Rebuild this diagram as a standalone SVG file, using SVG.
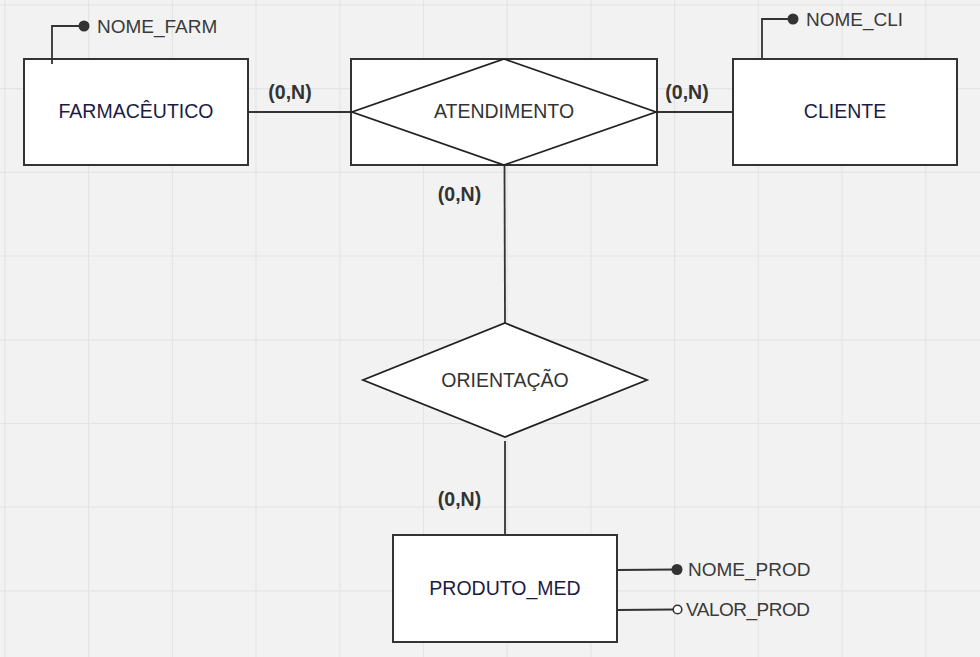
<svg xmlns="http://www.w3.org/2000/svg" width="980" height="657" viewBox="0 0 980 657">
<style>
.grid line{stroke:#e4e4e4;stroke-width:1.2}
.ent{fill:#fff;stroke:#333;stroke-width:2}
.rel{fill:#fff;stroke:#222;stroke-width:1.8}
.lbl{font-family:"Liberation Sans",Arial,sans-serif;font-size:19.5px;text-anchor:middle}
.etxt{fill:#1c1b45}
.rtxt{fill:#333}
.card{font-family:"Liberation Sans",Arial,sans-serif;font-size:19.5px;font-weight:bold;fill:#333;text-anchor:middle}
.attr{font-family:"Liberation Sans",Arial,sans-serif;font-size:19px;fill:#3a3a3a}
.conn{fill:none;stroke:#333;stroke-width:1.8}
</style>
<rect width="980" height="657" fill="#f2f2f2"/>
<g class="grid">
<line x1="5" y1="0" x2="5" y2="657"/><line x1="88.7" y1="0" x2="88.7" y2="657"/><line x1="172.4" y1="0" x2="172.4" y2="657"/><line x1="256" y1="0" x2="256" y2="657"/><line x1="339.8" y1="0" x2="339.8" y2="657"/><line x1="423.5" y1="0" x2="423.5" y2="657"/><line x1="507.2" y1="0" x2="507.2" y2="657"/><line x1="590.9" y1="0" x2="590.9" y2="657"/><line x1="674.6" y1="0" x2="674.6" y2="657"/><line x1="758.3" y1="0" x2="758.3" y2="657"/><line x1="842" y1="0" x2="842" y2="657"/><line x1="925.7" y1="0" x2="925.7" y2="657"/>
<line x1="0" y1="5" x2="980" y2="5"/><line x1="0" y1="88.7" x2="980" y2="88.7"/><line x1="0" y1="172.4" x2="980" y2="172.4"/><line x1="0" y1="256" x2="980" y2="256"/><line x1="0" y1="339.8" x2="980" y2="339.8"/><line x1="0" y1="423.5" x2="980" y2="423.5"/><line x1="0" y1="507.2" x2="980" y2="507.2"/><line x1="0" y1="590.9" x2="980" y2="590.9"/>
</g>
<g id="connectors">
<line class="conn" x1="248" y1="112" x2="351" y2="112"/>
<line class="conn" x1="657" y1="112" x2="733" y2="112"/>
<line class="conn" x1="504.5" y1="165" x2="505" y2="323"/>
<line class="conn" x1="505" y1="441" x2="505" y2="535"/>
<text class="card" x="290" y="99">(0,N)</text>
<text class="card" x="687" y="99">(0,N)</text>
<text class="card" x="459.5" y="201">(0,N)</text>
<text class="card" x="459.5" y="506">(0,N)</text>
</g>
<g id="farmaceutico">
<rect class="ent" x="24" y="59" width="224" height="106"/>
<text class="lbl etxt" x="136" y="118">FARMACÊUTICO</text>
</g>
<g id="attr-nome-farm">
<polyline class="conn" points="52,64 52,26 84,26"/>
<circle cx="84" cy="26" r="5.5" fill="#333"/>
<text class="attr" x="97" y="33">NOME_FARM</text>
</g>
<g id="atendimento">
<rect class="ent" x="351" y="59" width="306" height="106"/>
<polygon class="rel" points="504,59 656,112 504,165 352,112"/>
<text class="lbl rtxt" x="504" y="118">ATENDIMENTO</text>
</g>
<g id="cliente">
<rect class="ent" x="733" y="59" width="224" height="106"/>
<text class="lbl etxt" x="845" y="118">CLIENTE</text>
</g>
<g id="attr-nome-cli">
<polyline class="conn" points="762,58 762,19 793,19"/>
<circle cx="793" cy="19" r="5.5" fill="#333"/>
<text class="attr" x="806" y="26">NOME_CLI</text>
</g>
<g id="orientacao">
<polygon class="rel" points="505,323 647,380 505,437 363,380"/>
<text class="lbl rtxt" x="505" y="387">ORIENTAÇÃO</text>
</g>
<g id="produto-med">
<rect class="ent" x="393" y="535" width="224" height="107"/>
<text class="lbl etxt" x="505" y="595">PRODUTO_MED</text>
</g>
<g id="attr-nome-prod">
<line class="conn" x1="617" y1="570" x2="677" y2="569.5"/>
<circle cx="677" cy="569.5" r="5.5" fill="#333"/>
<text class="attr" x="688" y="576">NOME_PROD</text>
</g>
<g id="attr-valor-prod">
<line class="conn" x1="617" y1="610" x2="673" y2="609.5"/>
<circle cx="677.5" cy="609.5" r="4.3" fill="#fff" stroke="#333" stroke-width="1.6"/>
<text class="attr" x="686" y="616" textLength="124">VALOR_PROD</text>
</g>
</svg>
